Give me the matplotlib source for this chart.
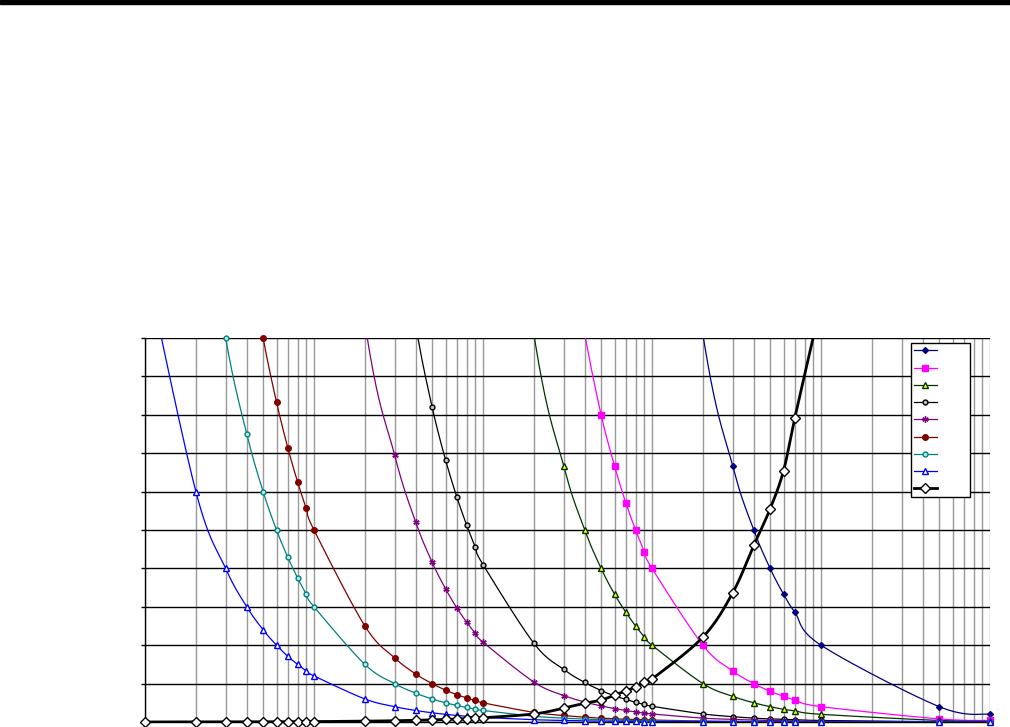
import numpy as np
import matplotlib
matplotlib.use('Agg')
import matplotlib.pyplot as plt
from matplotlib.lines import Line2D
from matplotlib.patches import Rectangle

x = [1, 2, 3, 4, 5, 6, 7, 8, 9, 10,
     20, 30, 40, 50, 60, 70, 80, 90, 100,
     200, 300, 400, 500, 600, 700, 800, 900, 1000,
     2000, 3000, 4000, 5000, 6000, 7000,
     10000, 50000, 100000]

s1 = [20000, 10000, 6667, 5000, 4000, 3333, 2857, 2500, 2222, 2000,
      1000, 667, 500, 400, 333, 286, 250, 222, 200,
      100, 66.7, 50, 40, 33.3, 28.6, 25, 22.2, 20,
      10.1, 6.67, 5.0, 4.0, 3.33, 2.86,
      2.0, 0.4, 0.2]
s2 = [4000, 2000, 1333, 1000, 800, 667, 571, 500, 444, 400,
      200, 133, 100, 80, 66.7, 57.1, 50, 44.4, 40,
      20, 13.3, 10.1, 8.0, 6.67, 5.71, 5.0, 4.44, 4.0,
      2.0, 1.33, 1.0, 0.8, 0.67, 0.57,
      0.4, 0.08, 0.04]
s3 = [2000, 1000, 667, 500, 400, 333, 286, 250, 222, 200,
      100, 66.7, 50, 40, 33.3, 28.6, 25, 22.2, 20,
      10.1, 6.67, 5.0, 4.0, 3.33, 2.86, 2.5, 2.22, 2.0,
      1.0, 0.67, 0.5, 0.4, 0.33, 0.29,
      0.2, 0.04, 0.02]
s4 = [410, 205, 137, 103, 82, 68.3, 58.6, 51.3, 45.6, 41,
      20.5, 13.7, 10.3, 8.2, 6.83, 5.86, 5.13, 4.56, 4.1,
      2.05, 1.37, 1.03, 0.82, 0.68, 0.59, 0.51, 0.46, 0.41,
      0.21, 0.14, 0.10, 0.08, 0.07, 0.06,
      0.04, 0.008, 0.004]
s5 = [208, 104, 69.3, 52, 41.6, 34.7, 29.7, 26, 23.1, 20.8,
      10.4, 6.95, 5.2, 4.16, 3.47, 2.97, 2.6, 2.31, 2.08,
      1.04, 0.69, 0.52, 0.42, 0.35, 0.30, 0.26, 0.23, 0.21,
      0.10, 0.07, 0.05, 0.04, 0.035, 0.03,
      0.02, 0.004, 0.002]
s6 = [50, 25, 16.7, 12.5, 10, 8.33, 7.14, 6.25, 5.56, 5.0,
      2.5, 1.67, 1.25, 1.0, 0.83, 0.71, 0.63, 0.56, 0.5,
      0.25, 0.17, 0.125, 0.1, 0.083, 0.071, 0.063, 0.056, 0.05,
      0.025, 0.017, 0.0125, 0.01, 0.008, 0.007,
      0.005, 0.001, 0.0005]
s7 = [30, 15, 10, 7.5, 6.0, 5.0, 4.29, 3.75, 3.33, 3.0,
      1.5, 1.0, 0.75, 0.6, 0.5, 0.43, 0.38, 0.33, 0.3,
      0.15, 0.1, 0.075, 0.06, 0.05, 0.043, 0.038, 0.033, 0.03,
      0.015, 0.01, 0.0075, 0.006, 0.005, 0.0043,
      0.003, 0.0006, 0.0003]
s8 = [12, 6.0, 4.0, 3.0, 2.4, 2.0, 1.71, 1.5, 1.33, 1.2,
      0.6, 0.4, 0.3, 0.24, 0.2, 0.17, 0.15, 0.13, 0.12,
      0.06, 0.04, 0.03, 0.024, 0.02, 0.017, 0.015, 0.013, 0.012,
      0.006, 0.004, 0.003, 0.0024, 0.002, 0.0017,
      0.0012, 0.0002, 0.0001]
# rising curve, last point (10000) is above the chart
s9 = [0.0011, 0.0022, 0.0033, 0.0044, 0.0055, 0.0066, 0.0077, 0.0088, 0.0099, 0.011,
      0.022, 0.033, 0.044, 0.055, 0.066, 0.077, 0.088, 0.099, 0.11,
      0.21, 0.36, 0.49, 0.57, 0.70, 0.81, 0.91, 1.04, 1.12,
      2.21, 3.36, 4.6, 5.55, 6.54, 7.92,
      10.9]

# data, colour, marker, marker size, face colour, line width
styles = [
    (s1, '#000080', 'D', 3, '#000080', 0.9),
    (s2, '#FF00FF', 's', 4.5, '#FF00FF', 0.9),
    (s3, '#003300', '^', 4, '#FFFF00', 0.9),
    (s4, '#000000', 'o', 3.5, '#C0C0C0', 0.9),
    (s5, '#800080', (6, 2, 0), 4.5, '#800080', 0.9),
    (s6, '#800000', 'o', 4, '#800000', 0.9),
    (s7, '#008080', 'o', 3.5, '#C0E8E8', 0.9),
    (s8, '#0000FF', '^', 4, '#FFFFFF', 0.9),
    (s9, '#000000', 'D', 5, '#FFFFFF', 2.0),
]


def smooth(xv, yv, n=24):
    # excel style smoothed line (catmull-rom in log-x / y space)
    u = np.log10(xv)
    p = np.column_stack([u, yv])
    p = np.vstack([p[0], p, p[-1]])
    out = []
    t = np.linspace(0, 1, n)[:, None]
    for i in range(1, len(p) - 2):
        p0, p1, p2, p3 = p[i - 1], p[i], p[i + 1], p[i + 2]
        b1 = p1 + (p2 - p0) / 6
        b2 = p2 - (p3 - p1) / 6
        seg = ((1 - t) ** 3) * p1 + 3 * ((1 - t) ** 2) * t * b1 \
            + 3 * (1 - t) * t ** 2 * b2 + t ** 3 * p2
        out.append(seg)
    out = np.vstack(out)
    return 10 ** out[:, 0], out[:, 1]


fig = plt.figure(figsize=(10.1, 7.27), dpi=100)
ax = fig.add_axes([145/1010, 5/727, 845/1010, 384/727])

handles = []
for vals, c, m, ms, mfc, lw in styles:
    ys = np.array(vals, dtype=float)
    xs = np.array(x[:len(vals)], dtype=float)
    sx, sy = smooth(xs, ys)
    ax.plot(sx, sy, color=c, lw=lw, zorder=3)
    inside = np.where(ys <= 10.0, ys, np.nan)
    ax.plot(xs, inside, linestyle='none', marker=m, ms=ms, mfc=mfc, mec=c,
            mew=1.0, clip_on=False, zorder=4)
    handles.append(Line2D([], [], color=c, lw=lw, marker=m, ms=ms, mfc=mfc,
                          mec=c, mew=1.0))

ax.set_xscale('log')
ax.set_xlim(1, 100000)
ax.set_ylim(0, 10)
ax.set_yticks(range(0, 11))
ax.set_yticklabels([])
ax.set_xticklabels([])
ax.set_xticklabels([], minor=True)
ax.tick_params(axis='x', which='both', length=0)
ax.tick_params(axis='y', length=3, width=1, color='black', direction='out')

ax.grid(True, axis='x', which='both', color='#999999', lw=1)
ax.grid(True, axis='y', which='major', color='black', lw=1)
ax.set_axisbelow(True)

for side in ['top', 'right']:
    ax.spines[side].set_visible(False)
ax.spines['left'].set_linewidth(1)
ax.spines['bottom'].set_linewidth(1)

leg = ax.legend(handles, [' '] * 9, loc='upper right',
                bbox_to_anchor=(825/845, 379/384), borderaxespad=0,
                fontsize=8, handlelength=2.0, handletextpad=2.4,
                borderpad=0.3, labelspacing=0.65, fancybox=False,
                framealpha=1, edgecolor='black')
leg.get_frame().set_linewidth(1)

# black rule across the top of the page
fig.add_artist(Rectangle((0, 1 - 4/727), 1, 4/727, transform=fig.transFigure,
                         color='black'))

plt.savefig('out.png', dpi=100)
